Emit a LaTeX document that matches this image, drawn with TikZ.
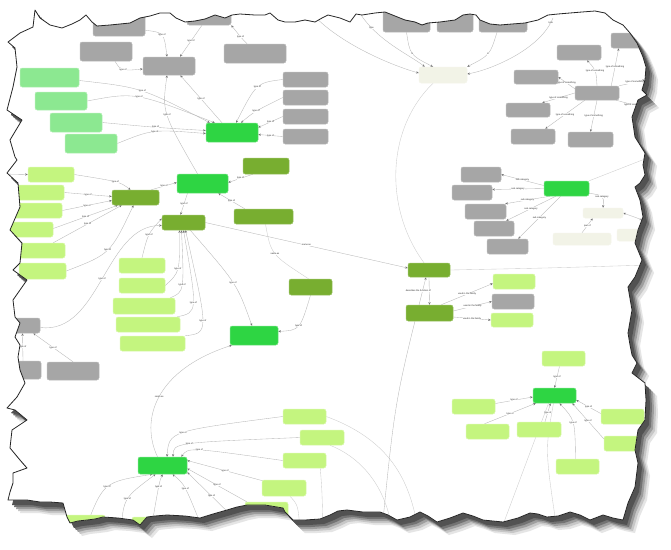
\documentclass[tikz,border=0pt]{standalone}
\usepackage{fontspec}
\setmainfont{Liberation Sans}
\usetikzlibrary{arrows.meta,calc}
\definecolor{cgray}{HTML}{A6A6A6}
\definecolor{clight}{HTML}{C4F57F}
\definecolor{cmid}{HTML}{8CE891}
\definecolor{cbright}{HTML}{2ED543}
\definecolor{colive}{HTML}{78AE30}
\definecolor{ccream}{HTML}{F2F3E7}
\newcommand\bx[6]{\node[#2,vis,minimum width={#5-#3},minimum height={#6-#4}] (#1) at ({(#3+#5)/2},{(#4+#6)/2}) {};}
\newcommand\tornpath{(35,10) -- (40,18) -- (50,25) -- (62,28) -- (72,24) -- (80,20) -- (86,15) -- (92,22) -- (97,26) -- (110,25) -- (120,24) -- (130,23) -- (140,18) -- (150,16) -- (160,13) -- (170,13) -- (176,18) -- (185,22) -- (195,21) -- (205,19) -- (215,15) -- (225,18) -- (232,15) -- (240,14) -- (255,15) -- (265,15) -- (270,13) -- (278,20) -- (285,22) -- (295,22) -- (305,20) -- (315,22) -- (322,18) -- (328,15) -- (340,18) -- (350,22) -- (356,14) -- (362,15) -- (375,13) -- (385,12) -- (395,16) -- (405,20) -- (415,22) -- (422,25) -- (428,23) -- (440,22) -- (455,20) -- (463,15) -- (470,14) -- (476,15) -- (480,20) -- (490,24) -- (500,25) -- (512,24) -- (525,23) -- (538,20) -- (548,15) -- (558,14) -- (570,13) -- (582,12) -- (595,11) -- (605,13) -- (613,20) -- (623,25) -- (630,33) -- (637,43) -- (643,57) -- (646,67) -- (645,80) -- (642,90) -- (647,95) -- (638,100) -- (632,117) -- (635,137) -- (645,153) -- (643,165) -- (645,175) -- (640,183) -- (635,187) -- (640,200) -- (643,217) -- (638,230) -- (635,243) -- (642,260) -- (635,277) -- (628,287) -- (632,310) -- (628,333) -- (630,345) -- (632,355) -- (637,363) -- (632,373) -- (645,383) -- (646,400) -- (645,420) -- (638,430) -- (635,450) -- (638,463) -- (635,487) -- (628,503) -- (623,520) -- (613,518) -- (603,515) -- (590,520) -- (580,515) -- (570,512) -- (558,516) -- (547,517) -- (538,514) -- (530,513) -- (518,518) -- (503,522) -- (493,521) -- (483,520) -- (473,516) -- (463,513) -- (450,518) -- (437,522) -- (428,516) -- (420,512) -- (410,517) -- (397,520) -- (388,515) -- (380,512) -- (363,512) -- (347,510) -- (338,511) -- (330,515) -- (320,519) -- (305,520) -- (293,520) -- (285,512) -- (283,508) -- (265,505) -- (247,505) -- (237,507) -- (227,510) -- (213,514) -- (200,518) -- (185,516) -- (167,515) -- (155,516) -- (147,517) -- (140,525) -- (133,520) -- (118,518) -- (103,517) -- (95,519) -- (87,520) -- (78,521) -- (70,523) -- (67,517) -- (63,503) -- (50,502) -- (40,502) -- (27,500) -- (8,500) -- (10,492) -- (13,483) -- (13,473) -- (27,468) -- (20,460) -- (10,448) -- (12,430) -- (27,420) -- (15,410) -- (7,408) -- (17,397) -- (25,383) -- (20,370) -- (18,357) -- (20,345) -- (15,337) -- (20,323) -- (15,317) -- (13,300) -- (27,280) -- (13,270) -- (20,263) -- (22,243) -- (10,230) -- (20,207) -- (18,183) -- (7,173) -- (17,160) -- (15,157) -- (10,140) -- (22,120) -- (7,110) -- (13,87) -- (17,67) -- (15,48) -- (8,42) -- (20,33) -- (33,27) -- cycle}
\newcommand\allnodes{%
\bx{g1}{gb}{93}{8}{145}{36}
\bx{g2}{gb}{80}{42}{132}{61}
\bx{g3}{gb}{143}{57}{195}{75}
\bx{g4}{gb}{187}{3}{231}{25}
\bx{g5}{gb}{224}{44}{286}{63}
\bx{g6}{gb}{283}{72}{328}{87}
\bx{g7}{gb}{283}{90}{328}{105}
\bx{g8}{gb}{283}{109}{328}{124}
\bx{g9}{gb}{283}{129}{328}{144}
\bx{m1}{mg}{20}{68}{79}{87}
\bx{m2}{mg}{35}{92}{87}{110}
\bx{m3}{mg}{50}{113}{102}{132}
\bx{m4}{mg}{65}{134}{117}{153}
\bx{b1}{bg}{206}{123}{258}{142}
\bx{o1}{og}{243}{158}{289}{174}
\bx{b2}{bg}{177}{174}{228}{193}
\bx{l1}{lg}{28}{167}{74}{182}
\bx{l2}{lg}{8}{185}{64}{200}
\bx{l3}{lg}{8}{203}{62}{218}
\bx{l4}{lg}{8}{222}{53}{237}
\bx{l5}{lg}{18}{243}{65}{258}
\bx{l6}{lg}{19}{263}{66}{279}
\bx{o2}{og}{112}{190}{159}{205}
\bx{o3}{og}{162}{215}{205}{230}
\bx{o4}{og}{234}{209}{293}{224}
\bx{o5}{og}{289}{279}{332}{295}
\bx{l7}{lg}{119}{258}{165}{273}
\bx{l8}{lg}{119}{278}{165}{293}
\bx{l9}{lg}{113}{298}{175}{314}
\bx{l10}{lg}{116}{317}{180}{332}
\bx{l11}{lg}{120}{336}{185}{351}
\bx{b3}{bg}{230}{326}{278}{345}
\bx{g10}{gb}{5}{318}{40}{333}
\bx{g11}{gb}{5}{361}{41}{379}
\bx{g12}{gb}{47}{362}{99}{380}
\bx{b4}{bg}{138}{457}{187}{474}
\bx{l12}{lg}{283}{409}{326}{424}
\bx{l13}{lg}{300}{430}{344}{445}
\bx{l14}{lg}{283}{453}{326}{468}
\bx{l15}{lg}{262}{480}{306}{496}
\bx{l16}{lg}{245}{502}{288}{525}
\bx{l26}{lg}{65}{515}{105}{540}
\bx{l27}{lg}{132}{517}{172}{540}
\bx{g13}{gb}{383}{3}{430}{32}
\bx{g14}{gb}{437}{3}{473}{32}
\bx{g15}{gb}{479}{3}{527}{32}
\bx{c1}{cg}{419}{67}{467}{83}
\bx{g16}{gb}{557}{45}{601}{60}
\bx{g17}{gb}{514}{70}{558}{84}
\bx{g18}{gb}{575}{86}{619}{100}
\bx{g19}{gb}{506}{103}{550}{117}
\bx{g20}{gb}{511}{129}{555}{144}
\bx{g21}{gb}{568}{132}{613}{147}
\bx{g22}{gb}{611}{33}{650}{48}
\bx{g23}{gb}{461}{167}{501}{182}
\bx{g24}{gb}{452}{185}{492}{200}
\bx{g25}{gb}{465}{204}{506}{219}
\bx{g26}{gb}{474}{221}{514}{236}
\bx{g27}{gb}{487}{239}{528}{254}
\bx{b5}{bg}{544}{181}{589}{196}
\bx{c2}{cg}{583}{208}{623}{218}
\bx{c3}{cg}{553}{233}{611}{245}
\bx{c4}{cg}{617}{229}{660}{241}
\bx{o6}{og}{408}{263}{450}{277}
\bx{o7}{og}{406}{305}{453}{321}
\bx{l17}{lg}{493}{274}{535}{289}
\bx{g28}{gb}{492}{294}{534}{309}
\bx{l18}{lg}{491}{313}{533}{327}
\bx{l19}{lg}{542}{351}{585}{366}
\bx{b6}{bg}{533}{388}{576}{403}
\bx{l20}{lg}{452}{399}{495}{414}
\bx{l21}{lg}{466}{424}{509}{439}
\bx{l22}{lg}{517}{422}{561}{437}
\bx{l23}{lg}{601}{409}{644}{424}
\bx{l24}{lg}{604}{436}{650}{451}
\bx{l25}{lg}{556}{459}{599}{474}
}
\begin{document}
\begin{tikzpicture}[x=1pt,y=-1pt,
 bxs/.style={rectangle,rounded corners=2.2pt,inner sep=0pt,line width=0.5pt},
 gb/.style={bxs,fill=cgray,draw=cgray!75!white},
 lg/.style={bxs,fill=clight,draw=clight!65!white},
 mg/.style={bxs,fill=cmid,draw=cmid!65!white},
 bg/.style={bxs,fill=cbright,draw=cbright!65!white},
 og/.style={bxs,fill=colive,draw=colive!75!white},
 cg/.style={bxs,fill=ccream,draw=ccream!80!white},
 vis/.style={},
 edg/.style={draw=black!28,line width=0.35pt,-{Stealth[length=2.6pt,width=2.2pt,color=black!55]}},
 pln/.style={draw=black!20,line width=0.35pt},
 lbl/.style={font=\fontsize{2.3}{2.6}\selectfont,inner sep=0.2pt,fill=white,text=black!85}]
\useasboundingbox (0,0) rectangle (671,549);
\fill[white] (0,0) rectangle (671,549);
% soft shadow
\fill[black!10, shift={(12,13)}] \tornpath;
\fill[black!22, shift={(10,11)}] \tornpath;
\fill[black!38, shift={(8,9)}] \tornpath;
\fill[black!55, shift={(6,7)}] \tornpath;
\fill[black!68, shift={(4,5)}] \tornpath;
\fill[white] \tornpath;
\begin{scope}
\clip \tornpath;
\tikzset{vis/.style={fill=none,draw=none}}
\allnodes
% off-edge ends
\coordinate (xl1) at (2,174);
\coordinate (t1) at (305,5);
\coordinate (t2) at (358,10);
\coordinate (t3) at (553,18);
\coordinate (bo6) at (382,530);
\coordinate (r1) at (648,265);
\coordinate (r2) at (648,222);
\coordinate (r3) at (650,157);
\coordinate (r4) at (645,108);
\coordinate (r5) at (645,80);
\coordinate (bb1) at (85,530);
\coordinate (bb2) at (121,530);
\coordinate (bb3) at (151,530);
\coordinate (bb4) at (203,530);
\coordinate (bb5) at (236,520);
\coordinate (bl12) at (418,530);
\coordinate (bl13) at (392,530);
\coordinate (bl14) at (323,530);
\coordinate (bl15) at (300,530);
\coordinate (bb6a) at (501,530);
\coordinate (bb6b) at (557,530);
% top-left cluster
\draw[edg] ($(g1.south east)+(0,-6)$) .. controls (164,32.5) .. node[lbl]{type of} ($(g3.north)+(-2,0)$);
\draw[edg] ($(g4.south)+(-7,0)$) -- node[lbl]{type of} ($(g3.north)+(11,0)$);
\draw[edg] ($(g5.north)+(-8,0)$) .. controls (241,37.5) .. node[lbl]{type of} (g4.south east);
\draw[edg] ($(g2.south)+(9,0)$) .. controls (121,71) .. node[lbl]{type of} ($(g3.west)+(0,3)$);
\draw[edg] ($(b1.north)+(-10,0)$) -- node[lbl]{type of} ($(g3.south east)+(-15,0)$);
\draw[edg] ($(b2.north)+(-5,0)$) .. controls (162,112) .. node[lbl]{type of} ($(g3.south)+(-2,0)$);
\draw[edg] (g6.west) .. controls (256.5,82.75) .. node[lbl]{type of} ($(b1.north)+(4,0)$);
\draw[edg] (g7.west) .. controls (254,111.75) .. node[lbl]{type of} ($(b1.north)+(9,0)$);
\draw[edg] (g8.west) -- node[lbl]{type of} ($(b1.east)+(0,-5)$);
\draw[edg] (g9.west) -- node[lbl]{type of} ($(b1.east)+(0,2)$);
\draw[edg] ($(m1.east)+(0,3)$) .. controls (141.5,87.5) .. node[lbl]{type of} ($(b1.north west)+(4,0)$);
\draw[edg] (m2.east) .. controls (135,92) .. node[lbl]{type of} ($(b1.north west)+(9,0)$);
\draw[edg] (m3.east) .. controls (156,127.5) .. node[lbl]{type of} ($(b1.west)+(0,-2)$);
\draw[edg] (m4.east) .. controls (152.5,129.25) .. node[lbl]{type of} ($(b1.west)+(0,1)$);
% left cluster
\draw[edg] (xl1) -- (l1.west);
\draw[edg] (l1.east) .. controls (119.75,181.75) .. node[lbl]{type of} ($(o2.north)+(-5,0)$);
\draw[edg] (l2.east) -- node[lbl]{type of} ($(o2.west)+(0,-1)$);
\draw[edg] (l3.east) -- node[lbl]{type of} ($(o2.west)+(0,3)$);
\draw[edg] ($(l4.east)+(0,-1)$) -- node[lbl]{type of} ($(o2.south west)+(6,0)$);
\draw[edg] ($(l5.north east)+(-12,0)$) -- node[lbl]{type of} ($(o2.south west)+(10,0)$);
\draw[edg] (l6.east) .. controls (110.25,254) .. node[lbl]{type of} ($(o2.south)+(-2,0)$);
\draw[edg] ($(o2.north east)+(-8,0)$) -- node[lbl]{type of} ($(b2.west)+(0,-1)$);
\draw[edg] ($(o1.south west)+(10,0)$) -- node[lbl]{type of} ($(b2.east)+(0,-1)$);
\draw[edg] ($(o4.north west)+(11,0)$) -- node[lbl]{type of} ($(b2.south east)+(-10,0)$);
\draw[edg] ($(b2.south)+(-15,0)$) -- node[lbl]{type of} ($(o3.north)+(-3,0)$);
\draw[edg] (l7.north) .. controls (148,233.75) .. node[lbl]{type of} ($(o3.west)+(0,-4)$);
\draw[edg] (l8.east) .. controls (179.75,272.25) .. node[lbl]{type of} ($(o3.south)+(-4,0)$);
\draw[edg] ($(l9.north east)+(-5,0)$) .. controls (184.25,292) .. node[lbl]{type of} ($(o3.south)+(-2,0)$);
\draw[edg] ($(l10.north east)+(-3,0)$) .. controls (197.75,312.5) .. node[lbl]{type of} (o3.south);
\draw[edg] (l11.north east) .. controls (208.75,333) .. node[lbl]{type of} ($(o3.south)+(2,0)$);
\draw[edg] ($(o3.south east)+(-15,0)$) .. controls (237,284) .. node[lbl]{type of} ($(b3.north)+(-2,0)$);
\draw[edg] (o5.south) .. controls (300,330) .. node[lbl]{type of} ($(b3.east)+(0,-4)$);
\draw[pln] ($(o4.south)+(2,0)$) .. controls (271,254.5) .. node[lbl]{same as} ($(o5.north)+(-2,0)$);
\draw[edg] ($(g10.east)+(0,2)$) .. controls (100,335) and (105,225) .. node[lbl]{type of} ($(o3.west)+(0,3)$);
\draw[edg] (o3.east) -- node[lbl]{same as} ($(o6.west)+(0,-2)$);
\draw[edg] (g12.north) -- node[lbl]{type of} ($(g10.south east)+(-7,0)$);
\draw[edg] (g11.north) -- node[lbl]{type of} (g10.south);
% bottom-left cluster
\draw[edg] ($(b4.north)+(-5,0)$) .. controls (140,420) and (155,370) .. node[lbl]{same as} ($(b3.south west)+(2,0)$);
\draw[edg] (l12.west) .. controls (169,431.25) .. node[lbl]{type of} ($(b4.north)+(4.5,0)$);
\draw[edg] (l13.west) .. controls (173.5,442.75) .. node[lbl]{type of} ($(b4.north)+(10.5,0)$);
\draw[edg] (l14.west) .. controls (188.5,447.25) .. node[lbl]{type of} ($(b4.north east)+(-6,0)$);
\draw[edg] ($(l15.north west)+(1,1)$) -- node[lbl]{type of} ($(b4.east)+(0,-5)$);
\draw[edg] ($(l16.north west)+(2,0)$) -- node[lbl]{type of} ($(b4.east)+(0,3)$);
\draw[edg] (bb5) -- node[lbl]{type of} ($(b4.south east)+(0,-2)$);
\draw[edg] (bb1) .. controls (103.25,482) .. node[lbl]{type of} ($(b4.south)+(-10,0)$);
\draw[edg] (bb2) .. controls (123.75,498) .. node[lbl]{type of} ($(b4.south)+(-7,0)$);
\draw[edg] (bb3) .. controls (159.25,482) .. node[lbl]{type of} ($(b4.south)+(0,0)$);
\draw[edg] (bb4) .. controls (184.5,484) .. node[lbl]{type of} ($(b4.south)+(10,0)$);
\draw[pln] (l12.east) .. controls (390,440) and (410,480) .. (bl12);
\draw[pln] ($(l13.south)+(8,0)$) .. controls (355,455) and (385,480) .. (bl13);
\draw[pln] ($(l14.south east)+(-6,0)$) .. controls (322,490) .. (bl14);
\draw[pln] ($(l15.south)+(6,0)$) .. controls (298,505) .. (bl15);
% top-right cream
\draw[edg] (t1) .. controls (330,40) and (390,65) .. node[lbl,pos=0.08]{type} ($(c1.west)+(0,-2)$);
\draw[edg] (t2) .. controls (375,40) and (410,55) .. node[lbl,pos=0.22]{type} ($(c1.north west)+(6,0)$);
\draw[edg] (g13.south) .. controls (410,55) .. node[lbl]{is} ($(c1.north)+(-10,0)$);
\draw[edg] ($(g15.south)+(-6,0)$) .. controls (490,55) .. node[lbl]{is} (c1.north east);
\draw[edg] (t3) .. controls (540,50) and (490,70) .. node[lbl,pos=0.05]{type} ($(c1.east)+(0,-1)$);
\draw[pln] ($(c1.south)+(-10,0)$) .. controls (385,130) and (385,210) .. ($(o6.north)+(-5,0)$);
% middle olive
\draw[edg] (bo6) .. controls (395,400) .. ($(o6.south)+(-3,0)$);
\draw[edg] (o6.south) -- node[lbl,xshift=-11pt]{describes the function of} (o7.north);
\draw[edg] ($(o7.north east)+(-12,0)$) -- node[lbl]{used in the family} ($(l17.west)+(0,2)$);
\draw[edg] ($(o7.east)+(0,-2)$) -- node[lbl]{used in the family} (g28.west);
\draw[edg] ($(o7.east)+(0,4)$) -- node[lbl]{used in the family} (l18.west);
\draw[pln] (o6.east) .. controls (550,268) .. (r1);
% B5 cluster
\draw[edg] ($(b5.west)+(0,-3)$) -- node[lbl]{sub category} (g23.east);
\draw[edg] (b5.west) -- node[lbl]{sub category} ($(g24.east)+(0,-3)$);
\draw[edg] ($(b5.south west)+(6,0)$) -- node[lbl]{sub category} ($(g25.north east)+(-1,0)$);
\draw[edg] ($(b5.south west)+(12,0)$) -- node[lbl]{sub category} ($(g26.north east)+(-8,0)$);
\draw[edg] ($(b5.south)+(-6,0)$) -- node[lbl]{sub category} ($(g27.north east)+(-10,0)$);
\draw[edg] ($(b5.south east)+(0,-3)$) .. controls (604,195.5) .. node[lbl]{sub category} (c2.north);
\draw[edg] (c3.north) -- node[lbl]{part of} ($(c2.south west)+(10,0)$);
\draw[edg] (r2) -- node[lbl,pos=0.2]{part of} (c2.east);
\draw[pln] (b5.north east) -- (r3);
% G18 cluster
\draw[edg] (g18.north) .. controls (596,70) .. node[lbl]{type of something} ($(g16.south)+(8,0)$);
\draw[edg] ($(g18.north west)+(0,3)$) -- node[lbl]{type of something} (g17.east);
\draw[edg] (g18.west) -- node[lbl]{type of something} ($(g19.north east)+(-8,0)$);
\draw[edg] ($(g18.south west)+(10,0)$) -- node[lbl]{type of something} ($(g20.north east)+(-10,0)$);
\draw[edg] (g18.south) -- node[lbl]{type of something} (g21.north);
\draw[edg] ($(g18.north east)+(-8,0)$) -- node[lbl]{type of something} ($(g22.south west)+(8,0)$);
\draw[edg] (g18.north east) -- node[lbl,pos=0.6]{type of something} (r5);
\draw[edg] ($(g18.south east)+(-3,0)$) -- node[lbl,pos=0.6]{type of something} (r4);
% B6 cluster
\draw[edg] ($(l19.south)+(-4,0)$) -- node[lbl]{type of} (b6.north);
\draw[edg] ($(l20.east)+(0,-3)$) -- node[lbl]{type of} ($(b6.west)+(0,1.5)$);
\draw[edg] ($(l21.north)+(-3,0)$) -- node[lbl]{type of} ($(b6.south west)+(3,0)$);
\draw[edg] ($(l22.north)+(6,0)$) -- node[lbl]{type of} ($(b6.south)+(-4,0)$);
\draw[edg] ($(l23.west)+(0,-3)$) -- node[lbl]{type of} ($(b6.east)+(0,4.5)$);
\draw[edg] ($(l24.north west)+(0,3)$) -- node[lbl]{type of} ($(b6.south east)+(-4,0)$);
\draw[edg] ($(l25.north)+(-2,0)$) .. controls (575,420) .. node[lbl]{type of} ($(b6.south)+(5,0)$);
\draw[pln] (bb6a) -- ($(b6.south)+(-6,0)$);
\draw[pln] (bb6b) .. controls (545,450) .. ($(b6.south)+(-1,0)$);
% visible nodes
\tikzset{vis/.style={}}
\allnodes
\end{scope}
\draw[black!85, line width=0.8pt, line join=round] \tornpath;
\end{tikzpicture}
\end{document}
